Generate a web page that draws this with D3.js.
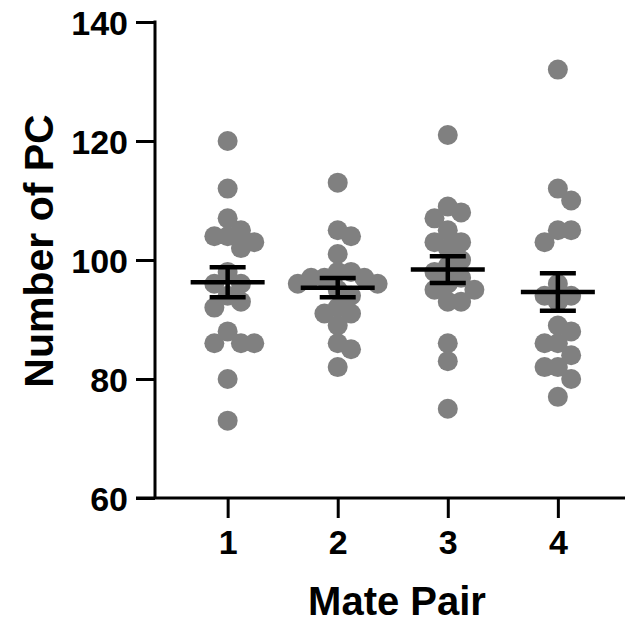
<!DOCTYPE html>
<html>
<head>
<meta charset="utf-8">
<script src="https://cdn.jsdelivr.net/npm/d3@7"></script>
<style>
  html, body { margin: 0; padding: 0; background: #fff; }
  text { font-family: "Liberation Sans", Arial, Helvetica, sans-serif; font-weight: bold; fill: #000; }
</style>
</head>
<body>
<svg id="chart" width="627" height="625"></svg>
<script>
// values, one array per mate pair
var pair1 = [120, 112, 107, 105, 104, 104, 103, 102, 98, 96, 96, 94, 93, 92, 88, 86, 86, 86, 80, 73];
var pair2 = [113, 105, 104, 101, 98, 98, 97, 97, 97, 96, 96, 95, 94, 92, 91, 91, 89, 86, 85, 82];
var pair3 = [121, 109, 108, 107, 105, 103, 103, 102, 100, 99, 98, 97, 96, 95, 95, 93, 93, 86, 83, 75];
var pair4 = [132, 112, 110, 105, 105, 103, 96, 94, 94, 93, 89, 88, 86, 86, 84, 82, 82, 80, 77];

var categories = ["1", "2", "3", "4"];
var yTicks = [60, 80, 100, 120, 140];
var groups = [pair1, pair2, pair3, pair4];

var svg = d3.select("#chart");

var axisLeft = 155, axisRight = 625;
var axisTop = 22, axisBottom = 498;

// group centres sit at 228, 338, 448, 558
var x = d3.scaleLinear().domain([0.34, 4.61]).range([axisLeft, axisRight]);
var y = d3.scaleLinear().domain([60, 140]).range([axisBottom, axisTop]);

var dotR = 10;
var step = 13.3;      // horizontal slot width of the swarm
var minDist = 13;     // dots may overlap a little

// simple greedy beeswarm: each value takes the nearest free slot
function swarm(values) {
    var sorted = values.slice().sort(function(a, b){ return b - a; });
    var placed = [];
    sorted.forEach(function(v){
        var py = y(v);
        for (var k = 0; k < 20; k++) {
            var tries = k == 0 ? [0] : [k, -k];
            var ok = null;
            for (var t = 0; t < tries.length; t++) {
                var px = tries[t] * step;
                var clash = placed.some(function(p){
                    var dx = p.dx - px, dy = p.y - py;
                    return Math.sqrt(dx * dx + dy * dy) < minDist;
                });
                if (!clash) { ok = px; break; }
            }
            if (ok !== null) { placed.push({ v: v, y: py, dx: ok }); break; }
        }
    });
    return placed;
}

// dots
groups.forEach(function(vals, i){
    var pts = swarm(vals);
    svg.append("g")
        .selectAll("circle")
        .data(pts)
        .enter()
        .append("circle")
        .attr("cx", function(d){ return x(i + 1) + d.dx; })
        .attr("cy", function(d){ return d.y; })
        .attr("r", dotR)
        .attr("fill", "#808080");
});

// mean and SEM
groups.forEach(function(vals, i){
    var m = d3.mean(vals);
    var sem = d3.deviation(vals) / Math.sqrt(vals.length);
    var cx = x(i + 1);
    var g = svg.append("g").attr("stroke", "#000").attr("stroke-width", 4.5);
    g.append("line").attr("x1", cx - 37).attr("x2", cx + 37).attr("y1", y(m)).attr("y2", y(m));
    g.append("line").attr("x1", cx).attr("x2", cx).attr("y1", y(m + sem)).attr("y2", y(m - sem));
    g.append("line").attr("x1", cx - 18).attr("x2", cx + 18).attr("y1", y(m + sem)).attr("y2", y(m + sem));
    g.append("line").attr("x1", cx - 18).attr("x2", cx + 18).attr("y1", y(m - sem)).attr("y2", y(m - sem));
});

// y axis
var yAxis = svg.append("g")
    .attr("transform", "translate(" + axisLeft + ",0)")
    .call(d3.axisLeft(y).tickValues(yTicks).tickSize(19).tickPadding(8).tickFormat(d3.format("d")));
yAxis.select(".domain").remove();
yAxis.append("line").attr("x1", 0).attr("x2", 0).attr("y1", axisTop - 1.5).attr("y2", axisBottom)
    .attr("stroke", "#000").attr("stroke-width", 3);
yAxis.selectAll(".tick line").attr("stroke", "#000").attr("stroke-width", 3);
yAxis.selectAll(".tick text").attr("font-size", 34).attr("font-family", null).attr("dy", "0.36em");

// x axis
var xAxis = svg.append("g")
    .attr("transform", "translate(0," + axisBottom + ")")
    .call(d3.axisBottom(x).tickValues([1, 2, 3, 4]).tickSize(20).tickPadding(12)
        .tickFormat(function(d){ return categories[d - 1]; }));
xAxis.select(".domain").remove();
xAxis.append("line").attr("x1", axisLeft - 19).attr("x2", axisRight).attr("y1", 0).attr("y2", 0)
    .attr("stroke", "#000").attr("stroke-width", 3);
xAxis.selectAll(".tick line").attr("stroke", "#000").attr("stroke-width", 3);
xAxis.selectAll(".tick text").attr("font-size", 34).attr("font-family", null);

// axis titles
svg.append("text")
    .attr("x", 397).attr("y", 615)
    .attr("text-anchor", "middle")
    .attr("font-size", 40)
    .text("Mate Pair");

svg.append("text")
    .attr("transform", "translate(53,251) rotate(-90)")
    .attr("text-anchor", "middle")
    .attr("font-size", 41)
    .text("Number of PC");
</script>
</body>
</html>
